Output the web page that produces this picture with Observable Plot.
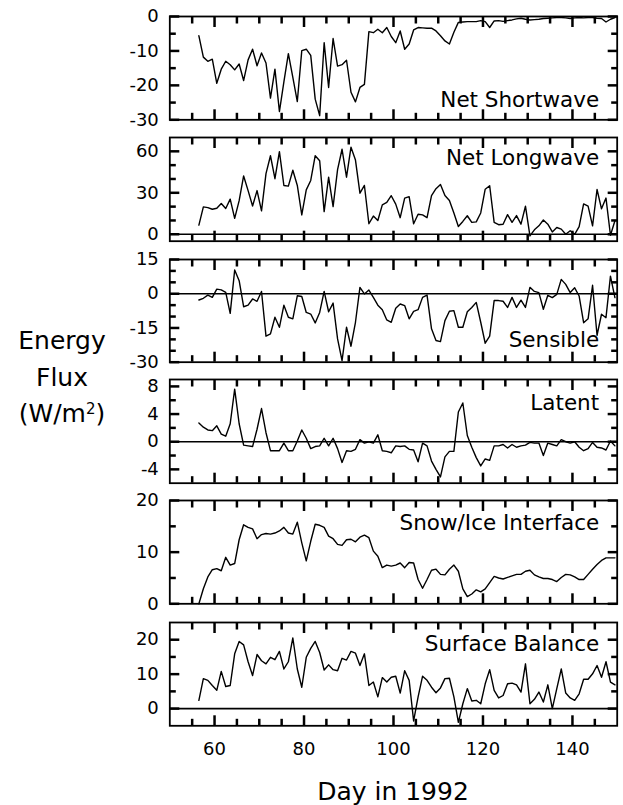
<!DOCTYPE html>
<html><head><meta charset="utf-8">
<script src="https://cdn.jsdelivr.net/npm/d3@7"></script>
<script src="https://cdn.jsdelivr.net/npm/@observablehq/plot@0.6"></script>
<style>
body{margin:0;background:#fff;}
#wrap{position:relative;width:623px;height:805px;font-family:"DejaVu Sans",sans-serif;color:#000;}
#ytitle{position:absolute;left:0;width:124px;top:323px;text-align:center;font-size:25px;line-height:36.5px;}
#xtitle{position:absolute;left:169px;width:448px;top:777px;text-align:center;font-size:25px;line-height:30px;}
</style></head>
<body>
<div id="wrap">
  <div id="ytitle">Energy<br>Flux<br>(W/m<span style="position:relative;top:-0.55em;font-size:0.6em">2</span>)</div>
  <div id="xtitle">Day in 1992</div>
</div>
<script>
const startDay = 56.5;
const netShortwave = [-5.6,-11.8,-13,-12.4,-19.4,-15.3,-13,-14,-15.5,-13.8,
-18.6,-12.6,-9.5,-14.3,-10.6,-13.5,-23.7,-15.3,-27.6,-19,
-10.8,-17.7,-24.7,-9.9,-9.5,-11.3,-24,-28.8,-7.6,-20.6,
-6.4,-14.4,-14,-12.7,-22,-24.8,-20.6,-19.7,-4.4,-4.7,
-3.7,-4.7,-3.2,-5.8,-7.6,-4.2,-9.5,-8,-3.9,-3.2,
-3.3,-3.4,-3.4,-4.2,-5.6,-7.1,-8,-4.6,-1.7,-1.6,
-1.5,-1.5,-1.5,-1.2,-1.5,-3.2,-1.3,-1.2,-1.4,-1.2,
-1,-0.7,-0.5,-0.8,-1,-0.9,-0.8,-0.6,-0.5,-0.4,
-0.3,-0.3,-0.4,-0.6,-0.4,-0.3,-0.4,-0.3,-0.3,-0.5,
-0.6,-1.6,-0.8,-0.3];
const netLongwave = [6.6,19.8,19.3,18.1,18.8,22.3,18.6,25.4,11.5,24.3,
42.2,31.6,20.5,31.6,16.9,43.9,56.8,40.2,59.8,35.3,
34.8,46.3,35.3,14,32.1,38.9,56.8,53.2,16.4,41.3,
20,46.8,61.5,41.3,63,53.7,29.7,35.3,7.6,13.2,
10,21.3,23,27.9,21.8,12,26.2,27.2,7.6,14.5,
14,12,28,33,36,28,24.5,15.4,5.6,9.3,
13.4,8.6,9,15.4,32.6,35.1,8.6,6.9,7.3,14.2,
8.6,13.5,7.3,20.3,-1.2,3.2,6.1,10.3,7.3,1.7,
4.9,3.7,0,2.5,0,5.6,22,20.3,6.1,32.4,
18.4,26.2,-0.7,9.8];
const sensible = [-2.75,-2,-0.6,-1.6,2,1.7,0.6,-8.6,10.4,5.7,
-5.7,-5,-2.3,-3.3,1,-18.6,-17.6,-10.3,-14.7,-5,
-10.3,-11,-0.9,-1.2,-8.2,-8.9,-12.8,-8.2,1,-7.9,
-4.1,-19.8,-29.3,-14.7,-23,-12.5,2.8,-0.1,1.6,-1.6,
-5,-7,-11.5,-12.5,-6.4,-4.5,-5.2,-11,-7.7,-7,
-1.6,-0.6,-15.4,-20.5,-21,-11.8,-7.7,-7.4,-14.7,-14.7,
-7.9,-6,-3.8,-12.5,-21.7,-18.6,-3,-3,-3.3,-6,
-1.6,-6,-2.8,-6,2.8,1,0.5,-6.8,-0.7,-1.7,
-0.3,6.3,4.1,0.5,2.6,-1,-12.7,-11,3.7,-18.2,
-9,-10.5,7.7,-1.7];
const latent = [2.7,2.1,1.7,1.6,2.3,1.1,0.8,2.6,7.6,2.6,
-0.5,-0.6,-0.7,1.8,4.8,1.3,-1.3,-1.3,-1.3,-0.2,
-1.3,-1.3,0.1,1.7,0.5,-1,-0.7,-0.6,0.5,-0.6,
0.5,-1,-3,-1.3,-1.4,-1.1,0.3,-0.2,0,-0.2,
1,-1.3,-1.4,-1.6,-0.6,-0.7,-0.6,-1.1,-1.2,-2.9,
-0.2,-0.6,-2.8,-4,-5.1,-2.2,-1.4,-1.4,4.3,5.6,
0.9,-0.8,-2.3,-3.5,-2.5,-2.7,-0.6,-0.6,-0.4,-0.9,
-0.4,-0.8,-0.6,-0.5,-0.1,-0.2,-0.2,-2,-0.2,-0.4,
-0.6,0.3,0,-0.2,0,-0.8,-1.3,-1,-0.1,-0.8,
-0.9,-1.2,0.1,-0.6];
const snowIce = [0,2.9,5.2,6.6,6.8,6.4,9,7.5,7.8,12.4,
15.3,14.8,14.5,12.6,13.4,13.6,13.5,13.7,14.1,14.8,
13.7,13.5,15.8,11.8,8.3,12.1,15.4,15.2,14.8,13.1,
12.6,11.5,11.3,12.4,12.5,12,12.9,13.3,12.8,10.2,
9.2,7,7.5,7.3,7.5,7.9,7,8,7.9,4.7,
3,4.7,6.5,6.7,5.7,5.6,6.7,7.5,6.3,2.9,
1.4,1.9,2.7,2.3,2.9,4.1,5.3,5,4.8,5.1,
5.4,5.7,5.7,6.3,6.5,5.6,5.2,4.9,4.9,4.7,
4.3,5.1,5.7,5.6,5.2,4.7,4.7,5.7,6.7,7.6,
8.4,8.9,8.9,8.9];
const surfaceBalance = [2.4,8.7,8.2,6.7,5.3,10.8,6.4,6.7,15.9,19.5,
18.5,13.6,9.6,15.7,13.9,13,14.9,14.2,16.6,11.5,
13.6,20.5,11.5,6.2,14.9,17.5,19.5,16.3,11.2,12.7,
11.3,11,14.6,14.1,16.6,16.1,12.5,15.9,6.7,7.7,
3.4,9,7.7,9.1,9.4,4.5,11,8.2,-3.6,3.4,
9.4,8.2,6.2,4.6,6,8.7,8.8,3.4,-4,1.4,
5.8,2.2,2.4,1.4,7.2,11.3,5.3,3.1,3.8,7.2,
7.4,6.9,4.8,13,1.4,2.7,4.8,1.9,6.9,0,
5.8,11.5,4.5,3.1,2.4,4.3,8.5,8.5,10.1,12.5,
9.1,13.6,7.7,6.9];

const xDomain = [50, 150];
const xMajor = [60, 80, 100, 120, 140];
const xMinor = [55, 65, 70, 75, 85, 90, 95, 105, 110, 115, 125, 130, 135, 145];

const panelNames = ["Net Shortwave","Net Longwave","Sensible","Latent","Snow/Ice Interface","Surface Balance"];
const series = [netShortwave, netLongwave, sensible, latent, snowIce, surfaceBalance];
const yDomains = [[-30,0],[-5,70],[-30,15],[-6,9],[0,20],[-5,25]];
const yMajor = [[-30,-20,-10,0],[0,30,60],[-30,-15,0,15],[-4,0,4,8],[0,10,20],[0,10,20]];
const yMinor = [[-25,-15,-5],[10,20,40,50],[-25,-20,-10,-5,5,10],[-2,2,6],[5,15],[5,15]];
const zeroLine = [false,true,true,true,false,true];
const labelAnchor = ["bottom-right","top-right","bottom-right","top-right","top-right","top-right"];
const labelDy = [-20,21,-22,24,23,22];
const frameTop = [15.7,137.3,259,379,500,621.7];
const frameBottom = [119,241,361.7,482.7,603.3,725];

const days = d3.range(series[0].length).map(i => startDay + i);
const wrap = document.getElementById("wrap");
const plain = d => String(d);
const blank = () => "";
const ML = 169.3, MR = 6.3, W = 623;

// inward ticks on all four sides, via the library's axes shifted inside the frame
function inwardTicks(xs, ys, size) {
  const o = {stroke: "black", strokeWidth: 2.5, tickFormat: blank};
  return [
    Plot.axisY(ys, {anchor: "left", tickSize: size, dx: size, ...o}),
    Plot.axisY(ys, {anchor: "right", tickSize: size, dx: -size, ...o}),
    Plot.axisX(xs, {anchor: "top", tickSize: size, dy: size, ...o}),
    Plot.axisX(xs, {anchor: "bottom", tickSize: size, dy: -size, ...o})
  ];
}

panelNames.forEach((name, p) => {
  const data = series[p].map((v, i) => ({day: days[i], v}));
  const last = p === panelNames.length - 1;
  const mt = 12, mb = last ? 40 : 12;
  const inner = frameBottom[p] - frameTop[p];
  const marks = [
    ...(zeroLine[p] ? [Plot.ruleY([0], {stroke: "black", strokeWidth: 1.6})] : []),
    Plot.lineY(data, {x: "day", y: "v", stroke: "black", strokeWidth: 1.4}),
    ...inwardTicks(xMajor, yMajor[p], 10),
    ...inwardTicks(xMinor, yMinor[p], 6.5),
    Plot.axisY(yMajor[p], {anchor: "left", tickSize: 0, tickPadding: 11, fontSize: 18, tickFormat: plain}),
    ...(last ? [Plot.axisX(xMajor, {anchor: "bottom", tickSize: 0, tickPadding: 16, fontSize: 18, tickFormat: plain})] : []),
    Plot.frame({strokeWidth: 1.8}),
    Plot.text([name], {frameAnchor: labelAnchor[p], lineAnchor: "middle", dx: -18, dy: labelDy[p], textAnchor: "end", fontSize: 21.5})
  ];
  const chart = Plot.plot({
    width: W,
    height: inner + mt + mb,
    marginLeft: ML,
    marginRight: MR,
    marginTop: mt,
    marginBottom: mb,
    style: {background: "none", overflow: "visible", fontFamily: "DejaVu Sans", fontSize: "18px"},
    x: {domain: xDomain, label: null},
    y: {domain: yDomains[p], label: null},
    marks
  });
  chart.style.position = "absolute";
  chart.style.top = (frameTop[p] - mt) + "px";
  chart.style.left = "0px";
  wrap.appendChild(chart);
});
</script>
</body></html>
